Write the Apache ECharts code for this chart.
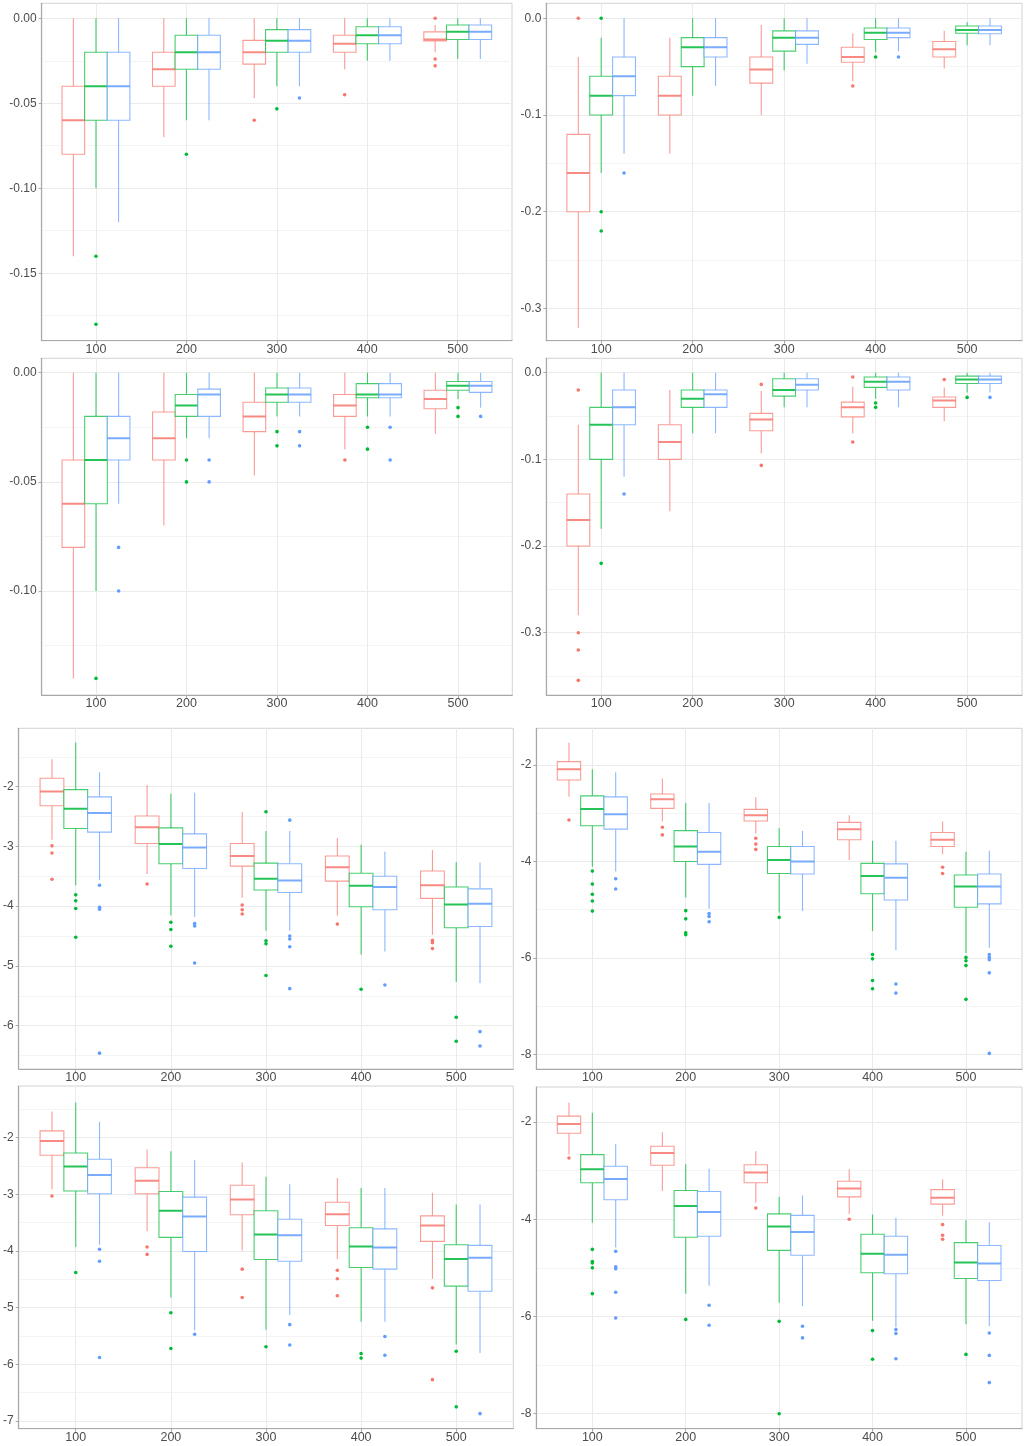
<!DOCTYPE html>
<html><head><meta charset="utf-8">
<script src="https://cdn.jsdelivr.net/npm/echarts@6/dist/echarts.min.js"></script>
<style>html,body{margin:0;padding:0;background:#fff}#c{width:1025px;height:1446px}</style>
</head><body><div id="c"></div>
<script>
// ---------------- data ----------------
const categories = ['100', '200', '300', '400', '500'];
const groupNames = ['Group A', 'Group B', 'Group C'];
// each box: [lower whisker, Q1, median, Q3, upper whisker]
const p1Red   = [[-0.14,-0.08,-0.06,-0.04,0],[-0.07,-0.04,-0.03,-0.02,0],[-0.047,-0.027,-0.02,-0.013,0],[-0.03,-0.02,-0.015,-0.01,0],[-0.02,-0.0133,-0.0125,-0.008,-0.004]];
const p1Green = [[-0.10,-0.06,-0.04,-0.02,0],[-0.06,-0.03,-0.02,-0.01,0],[-0.04,-0.02,-0.0133,-0.0067,0],[-0.025,-0.015,-0.01,-0.005,0],[-0.024,-0.0125,-0.008,-0.004,0]];
const p1Blue  = [[-0.12,-0.06,-0.04,-0.02,0],[-0.06,-0.03,-0.02,-0.01,0],[-0.04,-0.02,-0.0133,-0.0067,0],[-0.025,-0.015,-0.01,-0.005,0],[-0.024,-0.0125,-0.008,-0.004,0]];
const p1RedOut   = [[],[],[-0.06],[-0.045],[0,-0.024,-0.028]];
const p1GreenOut = [[-0.14,-0.18],[-0.08],[-0.0533],[],[]];
const p1BlueOut  = [[],[],[-0.0469],[],[]];

const p2Red   = [[-0.32,-0.20,-0.16,-0.12,-0.04],[-0.14,-0.10,-0.08,-0.06,-0.02],[-0.10,-0.067,-0.053,-0.04,-0.007],[-0.065,-0.0455,-0.04,-0.03,-0.0155],[-0.052,-0.04,-0.032,-0.024,-0.013]];
const p2Green = [[-0.16,-0.10,-0.08,-0.06,-0.02],[-0.08,-0.05,-0.03,-0.02,0],[-0.054,-0.034,-0.02,-0.013,0],[-0.035,-0.022,-0.015,-0.01,0],[-0.028,-0.0155,-0.012,-0.008,-0.004]];
const p2Blue  = [[-0.14,-0.08,-0.06,-0.04,0],[-0.07,-0.04,-0.03,-0.02,0],[-0.047,-0.027,-0.02,-0.013,0],[-0.034,-0.02,-0.015,-0.01,0],[-0.028,-0.016,-0.012,-0.008,0]];
const p2RedOut   = [[0],[],[],[-0.07],[]];
const p2GreenOut = [[0,-0.20,-0.22],[],[],[-0.04],[]];
const p2BlueOut  = [[-0.16],[],[],[-0.04],[]];

const p3Red   = [[-0.14,-0.08,-0.06,-0.04,0],[-0.07,-0.04,-0.03,-0.018,0],[-0.047,-0.027,-0.02,-0.0135,0],[-0.035,-0.02,-0.015,-0.01,0],[-0.028,-0.0165,-0.012,-0.008,0]];
const p3Green = [[-0.10,-0.06,-0.04,-0.02,0],[-0.03,-0.02,-0.015,-0.01,0],[-0.02,-0.0135,-0.01,-0.007,0],[-0.02,-0.0115,-0.01,-0.005,0],[-0.012,-0.008,-0.006,-0.004,0]];
const p3Blue  = [[-0.06,-0.04,-0.03,-0.02,0],[-0.03,-0.02,-0.01,-0.0075,0],[-0.02,-0.0135,-0.01,-0.007,0],[-0.02,-0.0115,-0.01,-0.005,0],[-0.016,-0.009,-0.006,-0.004,0]];
const p3RedOut   = [[],[],[],[-0.04],[]];
const p3GreenOut = [[-0.14],[-0.04,-0.05],[-0.027,-0.0335],[-0.025,-0.035],[-0.016,-0.02]];
const p3BlueOut  = [[-0.08,-0.10],[-0.04,-0.05],[-0.027,-0.0335],[-0.025,-0.04],[-0.02]];

const p4Red   = [[-0.28,-0.20,-0.17,-0.14,-0.06],[-0.16,-0.10,-0.08,-0.06,-0.02],[-0.093,-0.067,-0.054,-0.047,-0.021],[-0.07,-0.051,-0.04,-0.034,-0.016],[-0.056,-0.04,-0.032,-0.028,-0.017]];
const p4Green = [[-0.18,-0.10,-0.06,-0.04,0],[-0.07,-0.04,-0.03,-0.02,0],[-0.04,-0.027,-0.02,-0.007,0],[-0.03,-0.017,-0.0105,-0.005,0],[-0.023,-0.0125,-0.008,-0.004,0]];
const p4Blue  = [[-0.12,-0.06,-0.04,-0.02,0],[-0.07,-0.04,-0.025,-0.02,0],[-0.04,-0.02,-0.014,-0.007,0],[-0.04,-0.02,-0.0105,-0.005,0],[-0.023,-0.0125,-0.008,-0.004,0]];
const p4RedOut   = [[-0.02,-0.30,-0.32,-0.355],[],[-0.0135,-0.107],[-0.005,-0.08],[-0.008]];
const p4GreenOut = [[-0.22],[],[],[-0.035,-0.04],[-0.0285]];
const p4BlueOut  = [[-0.14],[],[],[],[-0.0285]];

const p5Red   = [[-2.89,-2.32,-2.08,-1.86,-1.54],[-3.46,-2.95,-2.68,-2.49,-1.97],[-3.86,-3.33,-3.16,-2.95,-2.43],[-4.16,-3.58,-3.35,-3.16,-2.86],[-4.48,-3.87,-3.65,-3.41,-3.06]];
const p5Green = [[-3.65,-2.70,-2.37,-2.05,-1.26],[-4.15,-3.29,-2.96,-2.69,-2.12],[-4.41,-3.73,-3.54,-3.28,-2.74],[-4.81,-4.01,-3.66,-3.45,-2.97],[-5.27,-4.36,-3.97,-3.68,-3.26]];
const p5Blue  = [[-3.56,-2.76,-2.44,-2.17,-1.76],[-4.18,-3.37,-3.02,-2.79,-2.10],[-4.41,-3.77,-3.57,-3.29,-2.74],[-4.76,-4.06,-3.68,-3.50,-3.09],[-5.29,-4.34,-3.96,-3.71,-3.27]];
const p5RedOut   = [[-2.99,-3.11,-3.55],[-3.63],[-3.98,-4.06,-4.13],[-4.30],[-4.57,-4.61,-4.71]];
const p5GreenOut = [[-3.81,-3.91,-4.04,-4.52],[-4.27,-4.39,-4.67],[-2.42,-4.58,-4.63,-5.16],[-5.39],[-5.86,-6.26]];
const p5BlueOut  = [[-3.65,-4.02,-4.05,-6.46],[-4.29,-4.33,-4.95],[-2.56,-4.50,-4.55,-4.68,-5.38],[-5.32],[-6.10,-6.34]];

const p6Red   = [[-2.66,-2.31,-2.09,-1.93,-1.54],[-3.17,-2.90,-2.71,-2.60,-2.28],[-3.42,-3.16,-3.04,-2.92,-2.67],[-3.97,-3.55,-3.33,-3.19,-3.04],[-3.85,-3.69,-3.55,-3.40,-3.17]];
const p6Green = [[-4.11,-3.26,-2.91,-2.64,-2.09],[-4.75,-4.00,-3.69,-3.36,-2.79],[-5.06,-4.25,-3.97,-3.69,-3.31],[-5.44,-4.67,-4.30,-4.04,-3.57],[-5.90,-4.95,-4.52,-4.28,-3.80]];
const p6Blue  = [[-4.21,-3.33,-3.02,-2.66,-2.15],[-4.98,-4.06,-3.80,-3.40,-2.79],[-5.03,-4.26,-4.00,-3.69,-3.37],[-5.84,-4.80,-4.34,-4.05,-3.57],[-5.79,-4.88,-4.52,-4.26,-3.78]];
const p6RedOut   = [[-3.14],[-3.29,-3.45],[-3.52,-3.64,-3.75],[],[-4.12,-4.25]];
const p6GreenOut = [[-4.20,-4.47,-4.68,-4.82,-5.03],[-5.02,-5.19,-5.48,-5.52],[-5.16],[-5.93,-6.02,-6.47,-6.64],[-5.99,-6.06,-6.16,-6.86]];
const p6BlueOut  = [[-4.36,-4.57],[-5.08,-5.14,-5.25],[],[-6.54,-6.73],[-5.93,-5.99,-6.04,-6.31,-7.98]];

const p7Red   = [[-2.91,-2.31,-2.06,-1.88,-1.54],[-3.65,-2.99,-2.76,-2.53,-2.21],[-3.99,-3.36,-3.09,-2.84,-2.44],[-4.14,-3.55,-3.35,-3.14,-2.71],[-4.49,-3.83,-3.55,-3.38,-2.97]];
const p7Green = [[-3.93,-2.94,-2.51,-2.27,-1.38],[-4.82,-3.76,-3.29,-2.95,-2.24],[-5.39,-4.15,-3.71,-3.29,-2.69],[-5.25,-4.29,-3.92,-3.59,-2.89],[-5.65,-4.62,-4.14,-3.89,-3.18]];
const p7Blue  = [[-3.89,-2.99,-2.66,-2.38,-1.72],[-5.40,-4.01,-3.39,-3.05,-2.40],[-5.13,-4.18,-3.72,-3.44,-2.82],[-5.25,-4.32,-3.94,-3.61,-2.89],[-5.80,-4.71,-4.12,-3.90,-3.18]];
const p7RedOut   = [[-3.03],[-3.93,-4.06],[-4.32,-4.82],[-4.34,-4.49,-4.79],[-4.65,-6.27]];
const p7GreenOut = [[-4.38],[-5.09,-5.72],[-5.69],[-5.81,-5.89],[-5.77,-6.75]];
const p7BlueOut  = [[-3.97,-4.18,-5.88],[-5.47],[-5.30,-5.66],[-5.51,-5.84],[-6.87]];

const p8Red   = [[-2.67,-2.23,-2.04,-1.88,-1.60],[-3.42,-2.89,-2.64,-2.50,-2.21],[-3.66,-3.25,-3.04,-2.88,-2.60],[-3.89,-3.54,-3.37,-3.22,-2.97],[-3.93,-3.69,-3.56,-3.39,-3.18]];
const p8Green = [[-4.07,-3.25,-2.97,-2.67,-1.81],[-5.53,-4.37,-3.73,-3.41,-2.87],[-5.72,-4.64,-4.15,-3.89,-3.54],[-6.09,-5.10,-4.71,-4.31,-3.90],[-6.16,-5.22,-4.89,-4.48,-4.02]];
const p8Blue  = [[-4.58,-3.60,-3.17,-2.91,-2.45],[-5.37,-4.35,-3.85,-3.43,-2.96],[-5.79,-4.74,-4.26,-3.92,-3.51],[-6.22,-5.12,-4.73,-4.35,-3.97],[-6.20,-5.26,-4.91,-4.54,-4.06]];
const p8RedOut   = [[-2.74],[],[-3.77],[-4.00],[-4.11,-4.33,-4.41]];
const p8GreenOut = [[-4.62,-4.87,-4.90,-5.00,-5.53],[-6.06],[-6.10,-8.00],[-6.29,-6.88],[-6.78]];
const p8BlueOut  = [[-4.66,-4.98,-5.02,-5.50,-6.03],[-5.77,-6.18],[-6.20,-6.44],[-6.27,-6.35,-6.87],[-6.34,-6.80,-7.36]];

// ---------------- layout / style ----------------
const COLORS = ['#F8766D', '#00BA38', '#619CFF'];
const DODGE = [-0.25, 0, 0.25];   // ggplot-style dodge, in category units
const BOX_HALF = 0.125;           // half box width, in category units
const FONT = 'Liberation Sans, Arial, Helvetica, sans-serif';

const panels = [
  {box:[p1Red,p1Green,p1Blue], out:[p1RedOut,p1GreenOut,p1BlueOut], grid:{left:41.7, top:3.3, width:470.3, height:337.4}, yMin:-0.1897, yMax:0.0088, step:0.05, dec:2},
  {box:[p2Red,p2Green,p2Blue], out:[p2RedOut,p2GreenOut,p2BlueOut], grid:{left:546.3, top:3.3, width:477.7, height:337.4}, yMin:-0.3334, yMax:0.0155, step:0.1, dec:1},
  {box:[p3Red,p3Green,p3Blue], out:[p3RedOut,p3GreenOut,p3BlueOut], grid:{left:41.7, top:358.3, width:470.6, height:336.7}, yMin:-0.1476, yMax:0.0066, step:0.05, dec:2},
  {box:[p4Red,p4Green,p4Blue], out:[p4RedOut,p4GreenOut,p4BlueOut], grid:{left:546.3, top:358.3, width:477.7, height:336.7}, yMin:-0.3719, yMax:0.0166, step:0.1, dec:1},
  {box:[p5Red,p5Green,p5Blue], out:[p5RedOut,p5GreenOut,p5BlueOut], grid:{left:18.3, top:728.3, width:495, height:340.7}, yMin:-6.725, yMax:-1.023, step:1, dec:0},
  {box:[p6Red,p6Green,p6Blue], out:[p6RedOut,p6GreenOut,p6BlueOut], grid:{left:536.3, top:728.3, width:495, height:340.7}, yMin:-8.304, yMax:-1.239, step:2, dec:0},
  {box:[p7Red,p7Green,p7Blue], out:[p7RedOut,p7GreenOut,p7BlueOut], grid:{left:18.3, top:1086, width:495, height:342.7}, yMin:-7.136, yMax:-1.088, step:1, dec:0},
  {box:[p8Red,p8Green,p8Blue], out:[p8RedOut,p8GreenOut,p8BlueOut], grid:{left:536.3, top:1087, width:495, height:341.7}, yMin:-8.308, yMax:-1.28, step:2, dec:0}
];

function makeBoxRenderer(color) {
  return function (params, api) {
    const x = api.value(0), lo = api.value(1), q1 = api.value(2), med = api.value(3), q3 = api.value(4), hi = api.value(5);
    const tl = api.coord([x - BOX_HALF, q3]);
    const br = api.coord([x + BOX_HALF, q1]);
    const mL = api.coord([x - BOX_HALF, med]);
    const mR = api.coord([x + BOX_HALF, med]);
    const top = api.coord([x, hi]);
    const upper = api.coord([x, q3]);
    const lower = api.coord([x, q1]);
    const bottom = api.coord([x, lo]);
    const ls = {stroke: color, lineWidth: 1.1, strokeOpacity: 0.72, fill: null};
    return {type: 'group', children: [
      {type: 'line', shape: {x1: top[0], y1: top[1], x2: upper[0], y2: upper[1]}, style: ls},
      {type: 'line', shape: {x1: lower[0], y1: lower[1], x2: bottom[0], y2: bottom[1]}, style: ls},
      {type: 'rect', shape: {x: tl[0], y: tl[1], width: br[0] - tl[0], height: br[1] - tl[1]},
        style: {fill: '#ffffff', stroke: color, lineWidth: 1.1, strokeOpacity: 0.72}},
      {type: 'line', shape: {x1: mL[0], y1: mL[1], x2: mR[0], y2: mR[1]},
        style: {stroke: color, lineWidth: 2, strokeOpacity: 0.85}}
    ]};
  };
}

function majorValues(min, max, step) {
  const out = [];
  for (let k = Math.ceil(min / step - 1e-9); k <= Math.floor(max / step + 1e-9); k++) out.push(+(k * step).toFixed(6));
  return out;
}

const option = {animation: false, backgroundColor: '#ffffff', grid: [], xAxis: [], yAxis: [], series: []};

panels.forEach(function (p, i) {
  option.grid.push(Object.assign({show: true, borderColor: '#d2d2d2', borderWidth: 1, backgroundColor: 'transparent'}, p.grid));
  option.xAxis.push({
    gridIndex: i, type: 'value', min: 0.4, max: 5.6, minInterval: 1, maxInterval: 1,
    axisLine: {show: true, onZero: false, lineStyle: {color: '#a8a8a8', width: 1.2}},
    axisTick: {show: true, length: 3, customValues: categories.map(function (c, k) { return k + 1; }), lineStyle: {color: '#a8a8a8'}},
    axisLabel: {
      margin: 2, fontSize: 12.5, color: '#4d4d4d', fontFamily: FONT,
      formatter: function (v) {
        const r = Math.round(v);
        return (Math.abs(v - r) < 1e-6 && r >= 1 && r <= categories.length) ? categories[r - 1] : '';
      }
    },
    splitLine: {show: true, lineStyle: {color: '#ebebeb', width: 1}}
  });
  option.yAxis.push({
    gridIndex: i, type: 'value', min: p.yMin, max: p.yMax, minInterval: p.step, maxInterval: p.step,
    axisLine: {show: true, onZero: false, lineStyle: {color: '#a8a8a8', width: 1.2}},
    axisTick: {show: true, length: 3, customValues: majorValues(p.yMin, p.yMax, p.step), lineStyle: {color: '#a8a8a8'}},
    axisLabel: {
      margin: 5, fontSize: 12, color: '#4d4d4d', fontFamily: FONT,
      formatter: function (v) {
        const r = v / p.step;
        if (Math.abs(r - Math.round(r)) > 1e-6) return '';
        let val = Math.round(r) * p.step;
        if (Math.abs(val) < 1e-12) val = 0;
        return val.toFixed(p.dec);
      }
    },
    splitLine: {show: true, lineStyle: {color: '#ebebeb', width: 1}},
    minorTick: {show: false, splitNumber: 2},
    minorSplitLine: {show: true, lineStyle: {color: '#f4f4f4', width: 1}}
  });
  for (let s = 0; s < 3; s++) {
    option.series.push({
      type: 'custom', name: groupNames[s], xAxisIndex: i, yAxisIndex: i, silent: true, clip: true, z: 2,
      renderItem: makeBoxRenderer(COLORS[s]),
      encode: {x: 0, y: [1, 2, 3, 4, 5]},
      data: p.box[s].map(function (b, k) { return [k + 1 + DODGE[s]].concat(b); })
    });
  }
  for (let s = 0; s < 3; s++) {
    const pts = [];
    p.out[s].forEach(function (arr, k) { arr.forEach(function (v) { pts.push([k + 1 + DODGE[s], v]); }); });
    option.series.push({
      type: 'scatter', name: groupNames[s] + ' outliers', xAxisIndex: i, yAxisIndex: i, silent: true, z: 3,
      symbol: 'circle', symbolSize: 3.6, itemStyle: {color: COLORS[s], opacity: 1},
      data: pts
    });
  }
});

const chart = echarts.init(document.getElementById('c'), null, {renderer: 'canvas'});
chart.setOption(option);
</script>
</body></html>
